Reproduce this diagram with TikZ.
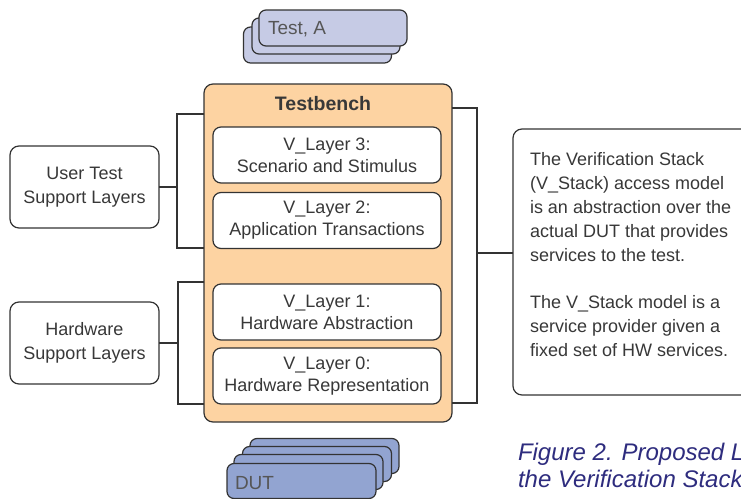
\documentclass[tikz,border=0pt]{standalone}
\usepackage{fontspec}
\setmainfont{Liberation Sans}
\begin{document}
\begin{tikzpicture}[x=1pt,y=-1pt,
  every node/.style={inner sep=0pt, outer sep=0pt, text=txt},
  ln/.style={draw=edge, line width=1.2pt},
  rbox/.style={ln, rounded corners=8pt, fill=white, align=center,
     font=\fontsize{18}{22}\selectfont},
  lbox/.style={ln, rounded corners=9pt, fill=white, align=center,
     minimum width=149pt, minimum height=82pt,
     font=\fontsize{18}{24}\selectfont},
  layer/.style={rbox, minimum width=228pt, minimum height=56pt},
  cardA/.style={ln, rounded corners=7pt, fill=lav, minimum width=148pt, minimum height=36pt},
  cardD/.style={ln, rounded corners=7pt, fill=dutc, minimum width=149pt, minimum height=35pt},
  brk/.style={draw=edge, line width=1.1pt}
]
\definecolor{edge}{HTML}{333333}
\definecolor{txt}{HTML}{383838}
\definecolor{peach}{HTML}{FDD3A2}
\definecolor{lav}{HTML}{C6CBE5}
\definecolor{dutc}{HTML}{92A4D1}
\definecolor{capc}{HTML}{2E2C7E}
\clip (0,0) rectangle (741,498);
\fill[white] (0,0) rectangle (741,498);

% Test, A stack
\node[cardA] (ta3) at (317.5,45) {};
\node[cardA] (ta2) at (326,36) {};
\node[cardA] (ta1) at (333,28) {};
\node[anchor=west, font=\fontsize{19}{20}\selectfont, text=txt!85] (talabel) at (ta1.west) [xshift=9pt, yshift=-1.5pt] {Test, A};

% Testbench
\node[ln, rounded corners=9pt, fill=peach, minimum width=248pt, minimum height=338pt] (tb) at (328,253) {};
\node[font=\bfseries\fontsize{19.5}{20}\selectfont] (tbt) at (323,103.5) {Testbench};
\node[layer] (l3) at (327,155) {V\_Layer 3:\\Scenario and Stimulus};
\node[layer] (l2) at (327,220.5) {V\_Layer 2:\\Application Transactions};
\node[layer] (l1) at (327,312) {V\_Layer 1:\\Hardware Abstraction};
\node[layer] (l0) at (327,376) {V\_Layer 0:\\Hardware Representation};

% Left boxes
\node[lbox] (ut) at (84.5,187) {User Test\\Support Layers};
\node[lbox] (hw) at (84.5,343) {Hardware\\Support Layers};

% Right description box
\node[ln, rounded corners=9pt, fill=white, minimum width=250pt, minimum height=266pt] (desc) at (638,262) {};
\node[anchor=north west, align=left, font=\fontsize{18}{24}\selectfont] (desct) at (530,152)
  {The Verification Stack\\(V\_Stack) access model\\is an abstraction over the\\actual DUT that provides\\services to the test.\\[23pt]The V\_Stack model is a\\service provider given a\\fixed set of HW services.};

% Brackets
\coordinate (b1t) at (177,114);
\coordinate (b1b) at (177,248);
\coordinate (b2t) at (178,282);
\coordinate (b2b) at (178,404);
\coordinate (b3t) at (477,108);
\coordinate (b3b) at (477,403);
\coordinate (b3m) at (477,253);
\draw[brk] (tb.west |- b1t) -- (b1t) -- (b1b) -- (tb.west |- b1b);
\draw[brk] (ut.east) -- (ut.east -| b1t);
\draw[brk] (tb.west |- b2t) -- (b2t) -- (b2b) -- (tb.west |- b2b);
\draw[brk] (hw.east) -- (hw.east -| b2t);
\draw[brk] (tb.east |- b3t) -- (b3t) -- (b3b) -- (tb.east |- b3b);
\draw[brk] (b3m) -- (b3m -| desc.west);

% DUT stack
\node[cardD] (d4) at (324.5,456) {};
\node[cardD] (d3) at (317,464) {};
\node[cardD] (d2) at (308.5,472) {};
\node[cardD] (d1) at (301.5,481) {};
\node[anchor=west, font=\fontsize{19}{20}\selectfont, text=txt!85] (dutl) at (d1.west) [xshift=8pt, yshift=-2pt] {DUT};

% Caption (cut off at the right edge, as in the reference)
\node[anchor=base west, align=left, text=capc, font=\itshape\fontsize{24}{27}\selectfont] (cap) at (518,487)
  {Figure 2. Proposed L\\the Verification Stack};
\end{tikzpicture}
\end{document}
